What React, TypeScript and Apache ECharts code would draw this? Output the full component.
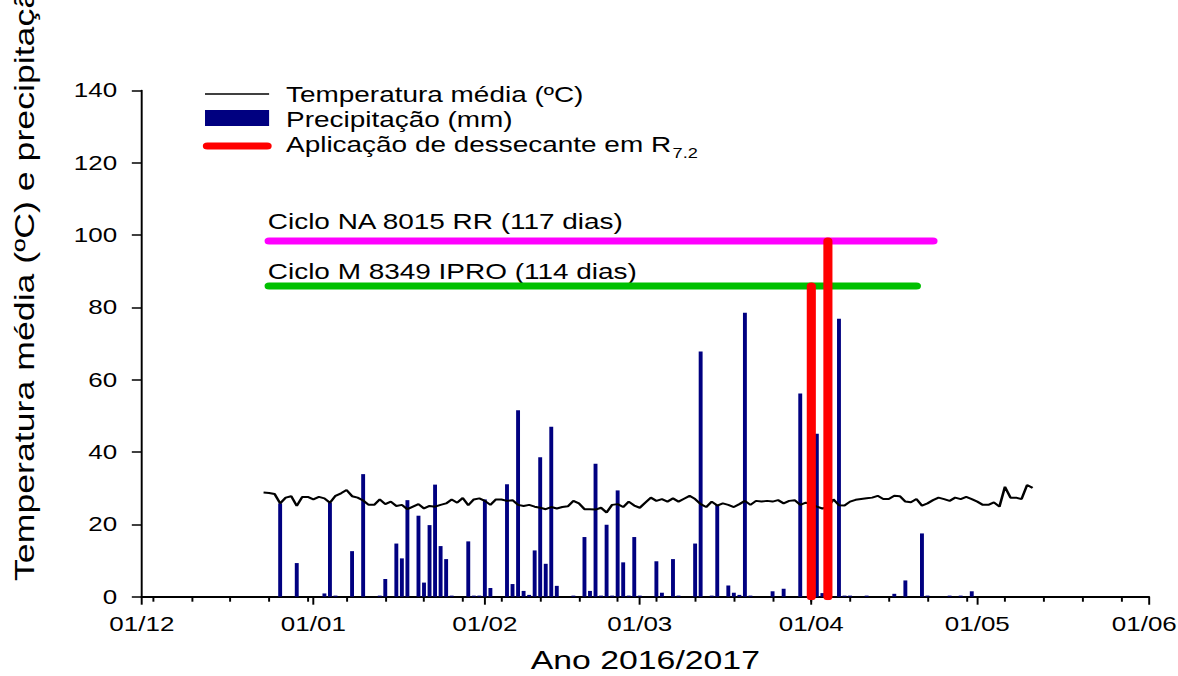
import React, { useEffect, useRef } from "react";
import * as echarts from "echarts";

// ---------------- data ----------------
const monthTicks = [
  "2016-12-01", "2017-01-01", "2017-02-01", "2017-03-01",
  "2017-04-01", "2017-05-01", "2017-06-01",
];
const weekTicks = [
  "2016-12-03", "2016-12-10", "2016-12-17", "2016-12-24", "2016-12-31",
  "2017-01-07", "2017-01-14", "2017-01-21", "2017-01-28",
  "2017-02-04", "2017-02-11", "2017-02-18", "2017-02-25",
  "2017-03-04", "2017-03-11", "2017-03-18", "2017-03-25",
  "2017-04-01", "2017-04-08", "2017-04-15", "2017-04-22", "2017-04-29",
  "2017-05-06", "2017-05-13", "2017-05-20", "2017-05-27",
];

// daily mean temperature (ºC), one value per day from tempStart
const tempStart = "2016-12-23";
const tempValues = [
  28.8, 28.7, 28.4, 25.8, 27.4, 27.8, 25.1, 27.6, 27.6, 26.9,
  27.6, 27.2, 26.0, 27.9, 28.6, 29.5, 27.8, 27.4, 26.6, 25.4,
  25.4, 26.9, 25.6, 26.3, 25.1, 25.4, 24.2, 24.9, 25.6, 24.4,
  25.1, 24.9, 25.4, 25.8, 26.9, 26.0, 27.3, 25.3, 26.9, 27.2,
  26.5, 25.4, 26.9, 26.9, 26.5, 26.7, 25.4, 25.1, 25.4, 24.9,
  24.6, 24.2, 24.8, 24.4, 24.8, 25.0, 26.5, 25.8, 24.2, 24.2,
  24.1, 24.6, 23.3, 25.4, 25.6, 24.8, 26.3, 25.2, 24.6, 26.0,
  27.4, 26.5, 27.0, 26.3, 27.2, 26.3, 27.1, 27.9, 27.0, 25.6,
  24.8, 26.3, 25.2, 25.8, 25.4, 24.8, 25.6, 26.5, 25.4, 26.5,
  26.3, 26.5, 26.3, 26.7, 25.8, 26.5, 26.7, 25.4, 26.0, 25.6,
  24.9, 24.4, 24.8, 26.9, 25.3, 25.2, 26.3, 26.8, 27.0, 27.2,
  27.4, 27.9, 27.0, 27.0, 27.9, 27.8, 26.3, 26.1, 27.0, 25.2,
  25.8, 26.7, 27.4, 27.0, 26.5, 27.4, 27.0, 27.6, 27.0, 26.3,
  25.4, 25.4, 26.1, 24.9, 30.4, 27.4, 27.4, 27.0, 30.9, 30.1,
];

// daily precipitation (mm)
const rainDates = [
  "2016-12-26", "2016-12-29", "2017-01-03", "2017-01-04", "2017-01-05",
  "2017-01-08", "2017-01-10", "2017-01-13", "2017-01-14", "2017-01-16",
  "2017-01-17", "2017-01-18", "2017-01-20", "2017-01-21", "2017-01-22",
  "2017-01-23", "2017-01-24", "2017-01-25", "2017-01-26", "2017-01-29",
  "2017-01-30", "2017-01-31", "2017-02-01", "2017-02-02", "2017-02-05",
  "2017-02-06", "2017-02-07", "2017-02-08", "2017-02-09", "2017-02-10",
  "2017-02-11", "2017-02-12", "2017-02-13", "2017-02-14", "2017-02-17",
  "2017-02-19", "2017-02-20", "2017-02-21", "2017-02-22", "2017-02-23",
  "2017-02-24", "2017-02-25", "2017-02-26", "2017-02-27", "2017-02-28",
  "2017-03-01", "2017-03-04", "2017-03-05", "2017-03-07", "2017-03-08",
  "2017-03-11", "2017-03-12", "2017-03-14", "2017-03-15", "2017-03-17",
  "2017-03-18", "2017-03-19", "2017-03-20", "2017-03-21", "2017-03-25",
  "2017-03-27", "2017-03-30", "2017-04-02", "2017-04-03", "2017-04-06",
  "2017-04-07", "2017-04-08", "2017-04-11", "2017-04-16", "2017-04-18",
  "2017-04-21", "2017-04-22", "2017-04-26", "2017-04-28", "2017-04-30",
];
const rainValues = [
  25.8, 9.3, 0.9, 26.0, 0.3,
  12.6, 33.9, 0.3, 4.9, 14.7,
  10.6, 26.7, 22.4, 3.9, 19.8,
  31.0, 14.0, 10.4, 0.3, 15.3,
  0.3, 0.3, 26.9, 2.4, 31.1,
  3.5, 51.6, 1.6, 0.5, 12.8,
  38.6, 9.1, 47.0, 3.0, 0.3,
  16.5, 1.6, 36.8, 0.3, 19.9,
  0.3, 29.4, 9.5, 0.3, 16.5,
  0.3, 9.8, 1.1, 10.4, 0.3,
  14.7, 67.8, 0.3, 25.4, 3.1,
  1.1, 0.5, 78.5, 0.3, 1.5,
  2.2, 56.2, 45.1, 1.0, 76.9,
  0.3, 0.3, 0.3, 0.8, 4.5,
  17.5, 0.3, 0.3, 0.3, 1.5,
];

// crop cycles (horizontal bars) and desiccant application (vertical bars)
const cycleNames = ["Ciclo NA 8015 RR (117 dias)", "Ciclo M 8349 IPRO (114 dias)"];
const cycleStart = ["2016-12-24", "2016-12-24"];
const cycleEnd = ["2017-04-23", "2017-04-20"];
const cycleLevel = [98.4, 85.9];
const cycleColors = ["#ff00ff", "#00c000"];

const desiccantDates = ["2017-04-01", "2017-04-04"];
const desiccantTops = [85.9, 98.4];

const yTitle = "Temperatura média (ºC) e precipitação (mm)";
const xTitle = "Ano 2016/2017";
const legendNames = ["Temperatura média (ºC)", "Precipitação (mm)", "Aplicação de dessecante em R"];
const legendSub = "7.2";

// ---------------- helpers ----------------
function ts(s: string): number {
  const [y, m, d] = s.split("-").map(Number);
  return new Date(y, m - 1, d).getTime();
}
function dayAfter(s: string, n: number): number {
  const [y, m, d] = s.split("-").map(Number);
  return new Date(y, m - 1, d + n).getTime();
}
function pad(n: number) {
  return n < 10 ? "0" + n : "" + n;
}

const FONT = "'Liberation Sans', Arial, Helvetica, sans-serif";
const STRETCH = 1.3; // the original figure is stretched horizontally
const W = 906;
const H = 676;

export default function App() {
  const ref = useRef<HTMLDivElement>(null);

  useEffect(() => {
    document.body.style.margin = "0";
    if (!ref.current) return;
    const chart = echarts.init(ref.current, null, { renderer: "svg", width: W, height: H });

    const xMin = ts(monthTicks[0]);
    const xMax = ts(monthTicks[monthTicks.length - 1]);

    const series: any[] = [];
    series.push({
      name: "Precipitação (mm)",
      type: "bar",
      xAxisIndex: 0,
      yAxisIndex: 0,
      barWidth: 3,
      itemStyle: { color: "#000080" },
      z: 2,
      data: rainDates.map((d, i) => [ts(d), rainValues[i]]),
    });
    series.push({
      name: "Temperatura média (ºC)",
      type: "line",
      xAxisIndex: 0,
      yAxisIndex: 0,
      symbol: "none",
      lineStyle: { color: "#000000", width: 2 },
      z: 3,
      data: tempValues.map((v, i) => [dayAfter(tempStart, i), v]),
    });
    cycleNames.forEach((n, i) => {
      series.push({
        name: n,
        type: "line",
        xAxisIndex: 0,
        yAxisIndex: 0,
        symbol: "none",
        lineStyle: { color: cycleColors[i], width: 7, cap: "round" },
        z: 4,
        data: [
          [ts(cycleStart[i]), cycleLevel[i]],
          [ts(cycleEnd[i]), cycleLevel[i]],
        ],
      });
    });
    desiccantDates.forEach((d, i) => {
      series.push({
        name: "Aplicação " + i,
        type: "line",
        xAxisIndex: 0,
        yAxisIndex: 0,
        symbol: "none",
        lineStyle: { color: "#ff0000", width: 7, cap: "round" },
        z: 5,
        data: [
          [ts(d), 0],
          [ts(d), desiccantTops[i]],
        ],
      });
    });

    const lastTick = ts(monthTicks[monthTicks.length - 1]);

    const option: any = {
      animation: false,
      backgroundColor: "#ffffff",
      textStyle: { fontFamily: FONT, color: "#000" },
      grid: {
        left: 109.1,
        right: W - 883.7,
        top: 90.5,
        bottom: 79.3,
        containLabel: false,
        outerBoundsMode: "none",
      },
      xAxis: [
        {
          type: "value",
          min: xMin,
          max: xMax,
          position: "bottom",
          name: xTitle,
          nameLocation: "middle",
          nameGap: 50,
          nameTextStyle: { fontSize: 26, color: "#000", fontFamily: FONT },
          axisLine: { show: true, onZero: false, lineStyle: { color: "#000", width: 2 } },
          axisTick: {
            show: true,
            length: 8,
            lineStyle: { color: "#000", width: 1.5 },
            customValues: monthTicks.map(ts),
          },
          axisLabel: {
            show: true,
            margin: 17,
            fontSize: 20,
            color: "#000",
            fontFamily: FONT,
            customValues: monthTicks.map(ts),
            formatter: (v: number) => {
              const d = new Date(v);
              const s = pad(d.getDate()) + "/" + pad(d.getMonth() + 1);
              return Math.abs(v - lastTick) < 1000 ? "{last|" + s + "}" : s;
            },
            rich: {
              last: { fontSize: 20, fontFamily: FONT, color: "#000", padding: [0, 7, 0, 0] },
            },
          },
          splitLine: { show: false },
        },
        {
          type: "value",
          min: xMin,
          max: xMax,
          position: "bottom",
          axisLine: { show: false },
          axisTick: {
            show: true,
            length: 5,
            lineStyle: { color: "#000", width: 1.5 },
            customValues: weekTicks.map(ts),
          },
          axisLabel: { show: false },
          splitLine: { show: false },
        },
      ],
      yAxis: [
        {
          type: "value",
          min: 0,
          max: 140,
          interval: 20,
          axisLine: { show: true, lineStyle: { color: "#000", width: 1.5 } },
          axisTick: { show: true, length: 7.7, lineStyle: { color: "#000", width: 1.5 } },
          axisLabel: { margin: 19, fontSize: 20, color: "#000", fontFamily: FONT },
          splitLine: { show: false },
        },
      ],
      series,
    };
    chart.setOption(option);

    const graphics: any[] = [];
    // y-axis title, rotated (its end runs past the top edge, as in the original figure)
    graphics.push({
      type: "text",
      x: 19,
      y: 581,
      rotation: Math.PI / 2,
      scaleX: 1.66,
      style: {
        text: yTitle,
        fontSize: 21.5,
        fontFamily: FONT,
        fill: "#000",
        align: "left",
        verticalAlign: "middle",
      },
    });
    // legend
    graphics.push({
      type: "line",
      shape: { x1: 157.7, y1: 94, x2: 207, y2: 94 },
      style: { stroke: "#000", lineWidth: 1.5 },
    });
    graphics.push({
      type: "rect",
      shape: { x: 157.7, y: 110, width: 49.3, height: 16 },
      style: { fill: "#000080" },
    });
    graphics.push({
      type: "line",
      shape: { x1: 159.5, y1: 146, x2: 205.5, y2: 146 },
      style: { stroke: "#ff0000", lineWidth: 7, lineCap: "round" },
    });
    const legendY = [94, 119, 144];
    legendNames.forEach((t, i) => {
      graphics.push({
        type: "text",
        x: 220,
        y: legendY[i],
        style: {
          text: t,
          fontSize: 21.5,
          fontFamily: FONT,
          fill: "#000",
          align: "left",
          verticalAlign: "middle",
        },
      });
    });
    // cycle labels, placed through the chart's own scales
    cycleNames.forEach((n, i) => {
      const p = chart.convertToPixel({ xAxisIndex: 0, yAxisIndex: 0 }, [ts(cycleStart[i]), cycleLevel[i]]) as number[];
      graphics.push({
        type: "text",
        x: p[0] - 1,
        y: p[1] - (i === 0 ? 20 : 15),
        style: {
          text: n,
          fontSize: 21.5,
          fontFamily: FONT,
          fill: "#000",
          align: "left",
          verticalAlign: "middle",
        },
      });
    });
    // subscript "7.2" after the R of the last legend entry
    const canvas = document.createElement("canvas");
    const ctx = canvas.getContext("2d");
    let tw = 290;
    if (ctx) {
      ctx.font = "21.5px " + FONT;
      tw = ctx.measureText(legendNames[2]).width;
    }
    graphics.push({
      type: "text",
      x: 220 + tw + 1,
      y: legendY[2] + 9,
      style: {
        text: legendSub,
        fontSize: 14,
        fontFamily: FONT,
        fill: "#000",
        align: "left",
        verticalAlign: "middle",
      },
    });
    chart.setOption({ graphic: graphics });

    return () => {
      chart.dispose();
    };
  }, []);

  return (
    <div
      style={{
        position: "absolute",
        left: 0,
        top: 0,
        width: 1178,
        height: 676,
        overflow: "hidden",
        background: "#fff",
      }}
    >
      <div
        ref={ref}
        style={{
          width: W,
          height: H,
          transform: `scaleX(${STRETCH})`,
          transformOrigin: "0 0",
        }}
      />
    </div>
  );
}
